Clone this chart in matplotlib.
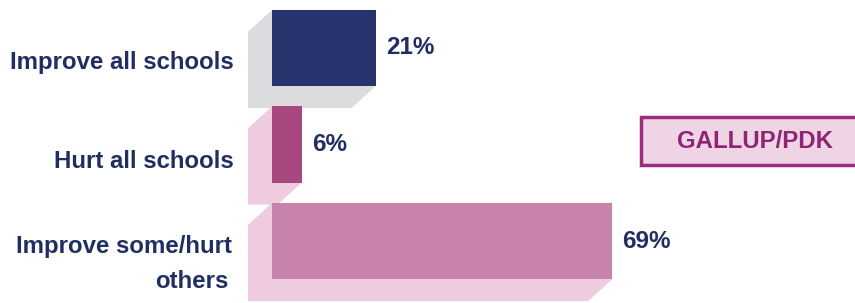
import matplotlib.pyplot as plt
from matplotlib.patches import Polygon, Rectangle

plt.rcParams['font.family'] = ['Liberation Sans', 'DejaVu Sans']

# data
categories = ['Improve all schools', 'Hurt all schools', 'Improve some/hurt\nothers']
values = [21, 6, 69]
bar_colors = ['#28336d', '#a9487f', '#c783ab']
side_colors = ['#dcdcdf', '#efcbdf', '#efcbdf']
text_color = '#222e62'

W, H = 855, 303
fig = plt.figure(figsize=(W / 100, H / 100), dpi=100)

# axes: x=0 at pixel 272, 100% -> 493 px
px_per_pct = 4.93
ax = fig.add_axes([272 / W, 0, 100 * px_per_pct / W, 1])
ax.set_xlim(0, 100)
ax.set_ylim(2.642, -0.497)
ax.axis('off')

bar_h = 0.79
dx = 24 / px_per_pct      # extrusion to the left
dy = 22 / 96.5            # extrusion downward

for i, v in enumerate(values):
    x0, x1 = 0, v
    y0, y1 = i - bar_h / 2, i + bar_h / 2
    side = Polygon([(x0, y0), (x0 - dx, y0 + dy), (x0 - dx, y1 + dy),
                    (x1 - dx, y1 + dy), (x1, y1), (x1, y0)],
                   closed=True, facecolor=side_colors[i], edgecolor='none',
                   clip_on=False, zorder=1)
    ax.add_patch(side)

ax.barh(range(len(values)), values, height=bar_h, color=bar_colors, zorder=2)

# value labels
for i, v in enumerate(values):
    ax.text(v + 2.1, i, f'{v}%', ha='left', va='center', fontsize=17.5,
            fontweight='bold', color=text_color)

# category labels (left of the bars)
label_pos = [(234, 63), (234, 162), (232, 247)]
for (px, py), lab in zip(label_pos, categories):
    lines = lab.split('\n')
    fig.text(px / W, 1 - py / H, lines[0], ha='right', va='center',
             fontsize=17.3, fontweight='bold', color=text_color)
    if len(lines) > 1:
        fig.text(228 / W, 1 - 282 / H, lines[1], ha='right', va='center',
                 fontsize=17.3, fontweight='bold', color=text_color)

# source box
box = Rectangle((641 / W, 1 - 165 / H), 230 / W, 48 / H, transform=fig.transFigure,
                facecolor='#efd4e5', edgecolor='#9b2c7b', linewidth=2.5)
fig.patches.append(box)
fig.text(755 / W, 1 - 141 / H, 'GALLUP/PDK', ha='center', va='center',
         fontsize=17.3, fontweight='bold', color='#8f2572')

plt.savefig('out.png', dpi=100)
